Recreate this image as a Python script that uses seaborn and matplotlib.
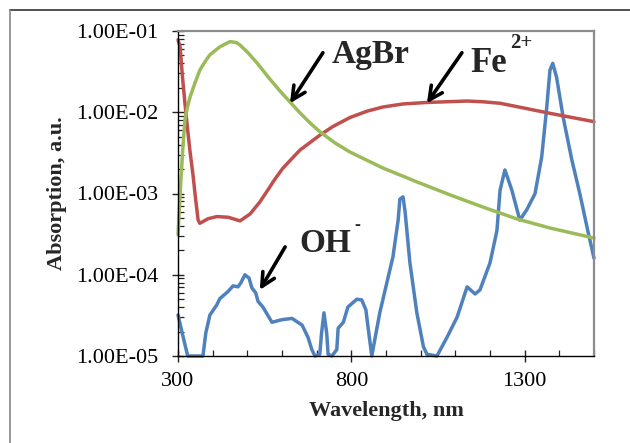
import numpy as np
import pandas as pd
import matplotlib
matplotlib.use("Agg")
import matplotlib.pyplot as plt
from matplotlib.lines import Line2D
from matplotlib.ticker import FixedLocator, LogLocator, FuncFormatter, NullFormatter, MultipleLocator
import seaborn as sns

# ---------------- data ----------------
agbr_nm = [300, 303, 306, 310, 314, 320, 326, 335, 349, 363, 378, 392, 421, 450, 469, 479, 502,
           528, 565, 594, 623, 652, 681, 710, 753, 796, 891, 989, 1085, 1180, 1278, 1373, 1500]
agbr_abs = [3.1e-4, 5.5e-4, 1e-3, 1.9e-3, 3.7e-3, 8e-3, 0.011, 0.0155, 0.023, 0.033, 0.042,
            0.051, 0.064, 0.074, 0.072, 0.067, 0.054, 0.0404, 0.0256, 0.0183, 0.0134, 0.0098,
            0.00738, 0.00572, 0.00419, 0.00324, 0.00206, 0.00139, 9.6e-4, 6.8e-4, 4.86e-4,
            3.76e-4, 2.83e-4]

fe_nm = [300, 306, 313, 320, 328, 335, 344, 349, 358, 363, 387, 412, 445, 479, 508, 536, 557,
         580, 603, 652, 710, 747, 796, 845, 891, 949, 1018, 1134, 1180, 1229, 1301, 1373, 1500]
fe_abs = [0.078, 0.064, 0.027, 0.0129, 0.006, 0.0032, 1.6e-3, 1e-3, 4.7e-4, 4.3e-4, 4.9e-4,
          5.2e-4, 5.1e-4, 4.6e-4, 5.6e-4, 7.85e-4, 1.07e-3, 1.51e-3, 2.06e-3, 3.43e-3, 5.25e-3,
          6.68e-3, 8.61e-3, 0.0103, 0.0116, 0.01265, 0.0132, 0.01374, 0.01345, 0.0129, 0.0112,
          0.0097, 0.00766]

oh_nm = [300, 315, 328, 350, 372, 380, 392, 411, 421, 444, 459, 473, 481, 493, 505, 513, 524,
         531, 545, 571, 600, 629, 658, 675, 686, 695, 709, 714, 721, 729, 733, 744, 758, 762,
         777, 790, 816, 830, 842, 848, 859, 882, 920, 935, 940, 949, 955, 969, 989, 1008, 1018,
         1047, 1076, 1105, 1134, 1157, 1171, 1200, 1220, 1229, 1243, 1263, 1286, 1306, 1330,
         1349, 1363, 1373, 1381, 1392, 1411, 1436, 1459, 1482, 1500]
oh_abs = [3.2e-5, 1.7e-5, 1e-5, 1e-5, 1e-5, 1.9e-5, 3.2e-5, 4.2e-5, 5.1e-5, 6.2e-5, 7.3e-5,
          7.1e-5, 7.9e-5, 1e-4, 9.1e-5, 6.9e-5, 6e-5, 4.7e-5, 4e-5, 2.6e-5, 2.8e-5, 2.9e-5,
          2.4e-5, 1.7e-5, 1.2e-5, 1e-5, 1.05e-5, 1.9e-5, 3.4e-5, 1.9e-5, 1.05e-5, 1e-5, 1.2e-5,
          2.2e-5, 2.6e-5, 4e-5, 5e-5, 4.9e-5, 3.7e-5, 2.3e-5, 1e-5, 3.4e-5, 1.66e-4, 4.7e-4,
          8.5e-4, 9.1e-4, 6e-4, 1.4e-4, 3.4e-5, 1.3e-5, 1.05e-5, 1e-5, 1.7e-5, 3e-5, 7.1e-5,
          5.8e-5, 6.5e-5, 1.4e-4, 3.5e-4, 1.1e-3, 1.95e-3, 1.1e-3, 4.7e-4, 6.3e-4, 1e-3, 2.8e-3,
          0.0107, 0.033, 0.04, 0.027, 8.7e-3, 2.6e-3, 1e-3, 3.5e-4, 1.6e-4]

x_major = [300, 800, 1300]
y_major = [1e-5, 1e-4, 1e-3, 1e-2, 1e-1]
x_label = "Wavelength, nm"
y_label = "Absorption, a.u."

df = pd.concat([
    pd.DataFrame({"nm": oh_nm, "abs": oh_abs, "series": "OH"}),
    pd.DataFrame({"nm": fe_nm, "abs": fe_abs, "series": "Fe"}),
    pd.DataFrame({"nm": agbr_nm, "abs": agbr_abs, "series": "AgBr"}),
], ignore_index=True)

palette = {"OH": "#4F81BD", "Fe": "#C0504D", "AgBr": "#9BBB59"}

# ---------------- style ----------------
sns.set_theme(style="white")
plt.rcParams["font.family"] = ["Liberation Serif", "DejaVu Serif"]

fig = plt.figure(figsize=(6.3, 4.43), dpi=100)
ax = fig.add_axes([178 / 630, 1 - 356 / 443, (594 - 178) / 630, (356 - 31) / 443])

sns.lineplot(data=df, x="nm", y="abs", hue="series", palette=palette, sort=False,
             estimator=None, legend=False, linewidth=2.5, ax=ax)
for ln in ax.lines:
    ln.set_clip_on(False)
    ln.set_solid_capstyle("round")
    ln.set_solid_joinstyle("round")

ax.set_yscale("log")
ax.set_xlim(300, 1500)
ax.set_ylim(1e-5, 1e-1)

ax.xaxis.set_major_locator(FixedLocator(x_major))
ax.xaxis.set_minor_locator(MultipleLocator(100))
ax.yaxis.set_major_locator(FixedLocator(y_major))
ax.yaxis.set_minor_locator(LogLocator(base=10, subs=np.arange(2, 10)))
ax.yaxis.set_major_formatter(FuncFormatter(lambda v, p: f"{v:.2E}"))
ax.yaxis.set_minor_formatter(NullFormatter())

ax.tick_params(axis="both", which="major", direction="inout", length=9, width=1,
               color="#222222", labelsize=16, labelcolor="black")
ax.tick_params(axis="y", which="major", pad=10)
ax.tick_params(axis="x", which="major", pad=7)
ax.tick_params(axis="both", which="minor", direction="in", length=4.5, width=0.9,
               color="#222222")
ax.tick_params(left=True, bottom=True, which="both")

for s in ["left", "bottom"]:
    ax.spines[s].set_color("black")
    ax.spines[s].set_linewidth(1.0)
for s in ["top", "right"]:
    ax.spines[s].set_color("#8c8c8c")
    ax.spines[s].set_linewidth(1.6)

ax.set_xlabel(x_label, fontsize=16, fontweight="bold", labelpad=7)
ax.set_ylabel(y_label, fontsize=16, fontweight="bold", labelpad=6)

# ---------------- annotations ----------------
arrow = dict(arrowstyle="->", lw=2.6, color="black", mutation_scale=24,
             shrinkA=0, shrinkB=0)
ax.annotate("", xy=(623, 0.0129), xytext=(718, 0.054), arrowprops=arrow)
ax.annotate("", xy=(1018, 0.0129), xytext=(1119, 0.054), arrowprops=arrow)
ax.annotate("", xy=(536, 6.5e-5), xytext=(609, 2.2e-4), arrowprops=arrow)

ax.text(856, 0.052, "AgBr", fontsize=24, fontweight="bold", ha="center", va="center")
ax.text(1197, 0.040, "Fe", fontsize=25, fontweight="bold", ha="center", va="center")
ax.text(1290, 0.071, "2+", fontsize=15, fontweight="bold", ha="center", va="center")
ax.text(724, 2.4e-4, "OH", fontsize=24, fontweight="bold", ha="center", va="center")
ax.text(816, 4.0e-4, "-", fontsize=13, fontweight="bold", ha="center", va="center")

# outer frame (partial, like the reference crop)
fig.add_artist(Line2D([10 / 630, 1.0], [1 - 10 / 443, 1 - 10 / 443],
                      transform=fig.transFigure, color="#333333", lw=1.2))
fig.add_artist(Line2D([10 / 630, 10 / 630], [0.0, 1 - 10 / 443],
                      transform=fig.transFigure, color="#888888", lw=1.2))

fig.savefig("out.png", dpi=100)
